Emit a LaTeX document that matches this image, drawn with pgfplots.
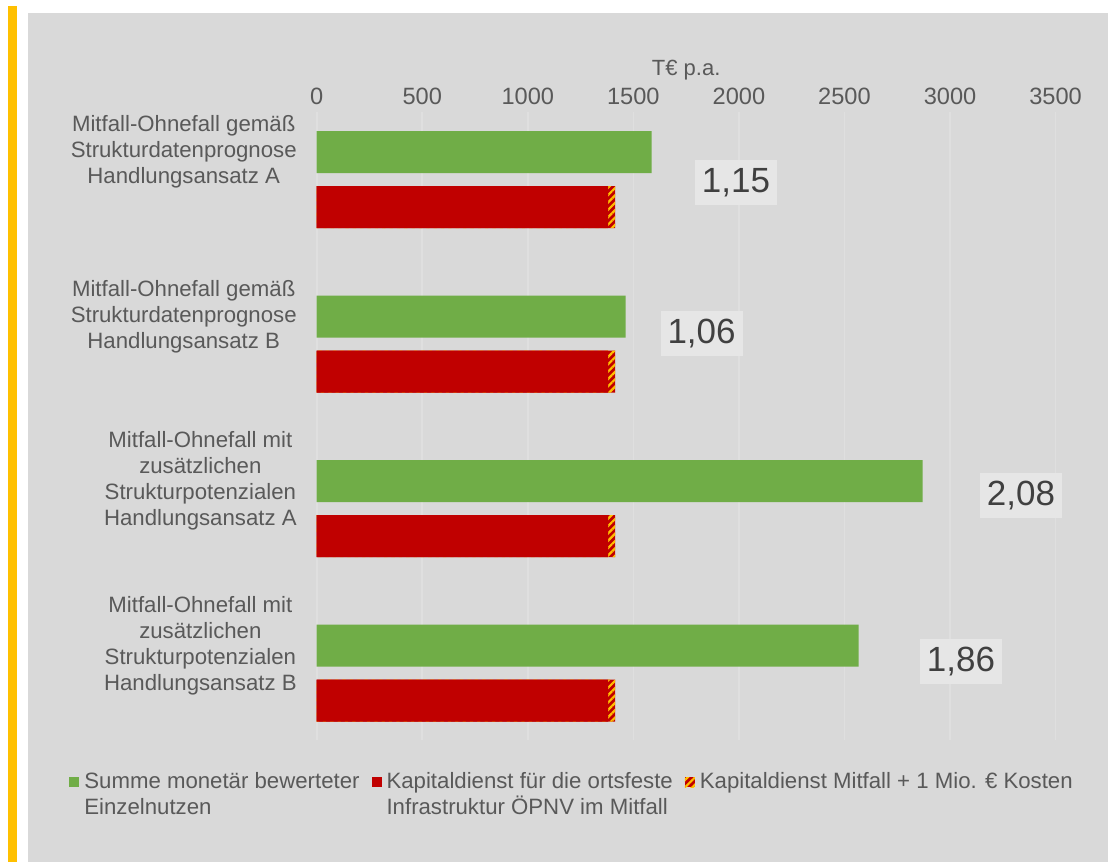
\documentclass[border=0pt]{standalone}
\usepackage{fontspec}
\setmainfont{Liberation Sans}
\usepackage{pgfplots}
\pgfplotsset{compat=1.18}
\usetikzlibrary{patterns.meta}

\definecolor{bg}{HTML}{D9D9D9}
\definecolor{gridc}{HTML}{DFDFDF}
\definecolor{cgreen}{HTML}{70AD47}
\definecolor{cred}{HTML}{C00000}
\definecolor{cyel}{HTML}{FFC000}
\definecolor{txt}{HTML}{595959}
\definecolor{boxc}{HTML}{E6E6E6}
\definecolor{boxtxt}{HTML}{404040}

\pgfplotsset{
  sq/.style={legend image code/.code={\fill[##1] (0pt,4pt) rectangle (5pt,9pt);}},
  hatch/.style={fill=cred, postaction={pattern={Lines[angle=45,distance=2.6pt,line width=1.1pt]}, pattern color=cyel}},
}
\tikzset{ratio/.style={fill=boxc, text=boxtxt, font=\fontsize{17.5}{19}\selectfont,
    inner xsep=3.5pt, minimum height=22.5pt}}

\begin{document}
\begin{tikzpicture}
% page: 1 px = 0.5 pt
\fill[white] (0pt,0pt) rectangle (554pt,-431pt);
\fill[cyel] (4pt,-3pt) rectangle (8.5pt,-431pt);
\fill[bg] (14pt,-6.5pt) rectangle (554pt,-431pt);

\begin{axis}[
  at={(158.35pt,-56pt)}, anchor=north west,
  width=369.45pt, height=314pt, scale only axis,
  clip=false,
  xmin=0, xmax=3500,
  ymin=-0.41033, ymax=3.4073, y dir=reverse,
  xbar, bar width=21pt,
  xtick={0,500,...,3500}, xticklabel pos=upper,
  /pgf/number format/1000 sep={},
  /pgf/number format/assume math mode=true,
  ytick={0,1,2,3},
  yticklabels={
    {Mitfall-Ohnefall gemäß\\Strukturdatenprognose\\Handlungsansatz A},
    {Mitfall-Ohnefall gemäß\\Strukturdatenprognose\\Handlungsansatz B},
    {Mitfall-Ohnefall mit\\zusätzlichen\\Strukturpotenzialen\\Handlungsansatz A},
    {Mitfall-Ohnefall mit\\zusätzlichen\\Strukturpotenzialen\\Handlungsansatz B}},
  yticklabel style={align=center, font=\fontsize{11.1}{13}\selectfont, text=txt, xshift=-6.5pt, yshift=13.75pt},
  xticklabel style={font=\fontsize{11.8}{13}\selectfont, text=txt},
  major tick length=0pt,
  axis line style={draw=none},
  xmajorgrids, grid style={color=gridc, line width=0.8pt},
  legend columns=3,
  legend cell align=left,
  legend style={at={(-0.3352,-0.045)}, anchor=north west, draw=none, fill=none,
    inner sep=0pt, font=\fontsize{11.1}{13}\selectfont, text=txt,
    cells={align=left},
    /tikz/every odd column/.append style={column sep=0.5pt},
    /tikz/every even column/.append style={column sep=4pt}},
]
% Kapitaldienst + 1 Mio. EUR (drawn first, red bar covers its left part)
\addplot[forget plot, draw=none, hatch, bar shift=-13.75pt]
  coordinates {(1413,0) (1413,1) (1413,2) (1413,3)};
% Summe monetaer bewerteter Einzelnutzen
\addplot[draw=none, fill=cgreen, bar shift=13.75pt, sq]
  coordinates {(1587,0) (1463,1) (2870,2) (2567,3)};
\addlegendentry{Summe monetär bewerteter\\Einzelnutzen}
% Kapitaldienst im Mitfall
\addplot[draw=none, fill=cred, bar shift=-13.75pt, sq]
  coordinates {(1380,0) (1380,1) (1380,2) (1380,3)};
\addlegendentry{Kapitaldienst für die ortsfeste\\Infrastruktur ÖPNV im Mitfall}
\addlegendimage{draw=none, hatch, sq}
\addlegendentry{Kapitaldienst Mitfall + 1 Mio. € Kosten\\\mbox{}}

\node[ratio] at (axis cs:1986,0.018) {1,15};
\node[ratio] at (axis cs:1823,0.936) {1,06};
\node[ratio] at (axis cs:3336,1.921) {2,08};
\node[ratio] at (axis cs:3052,2.930) {1,86};

\node[anchor=base, text=txt, font=\fontsize{11}{13}\selectfont, yshift=18.5pt]
  at (axis cs:1750,-0.41033) {T€ p.a.};
\end{axis}
\end{tikzpicture}
\end{document}
